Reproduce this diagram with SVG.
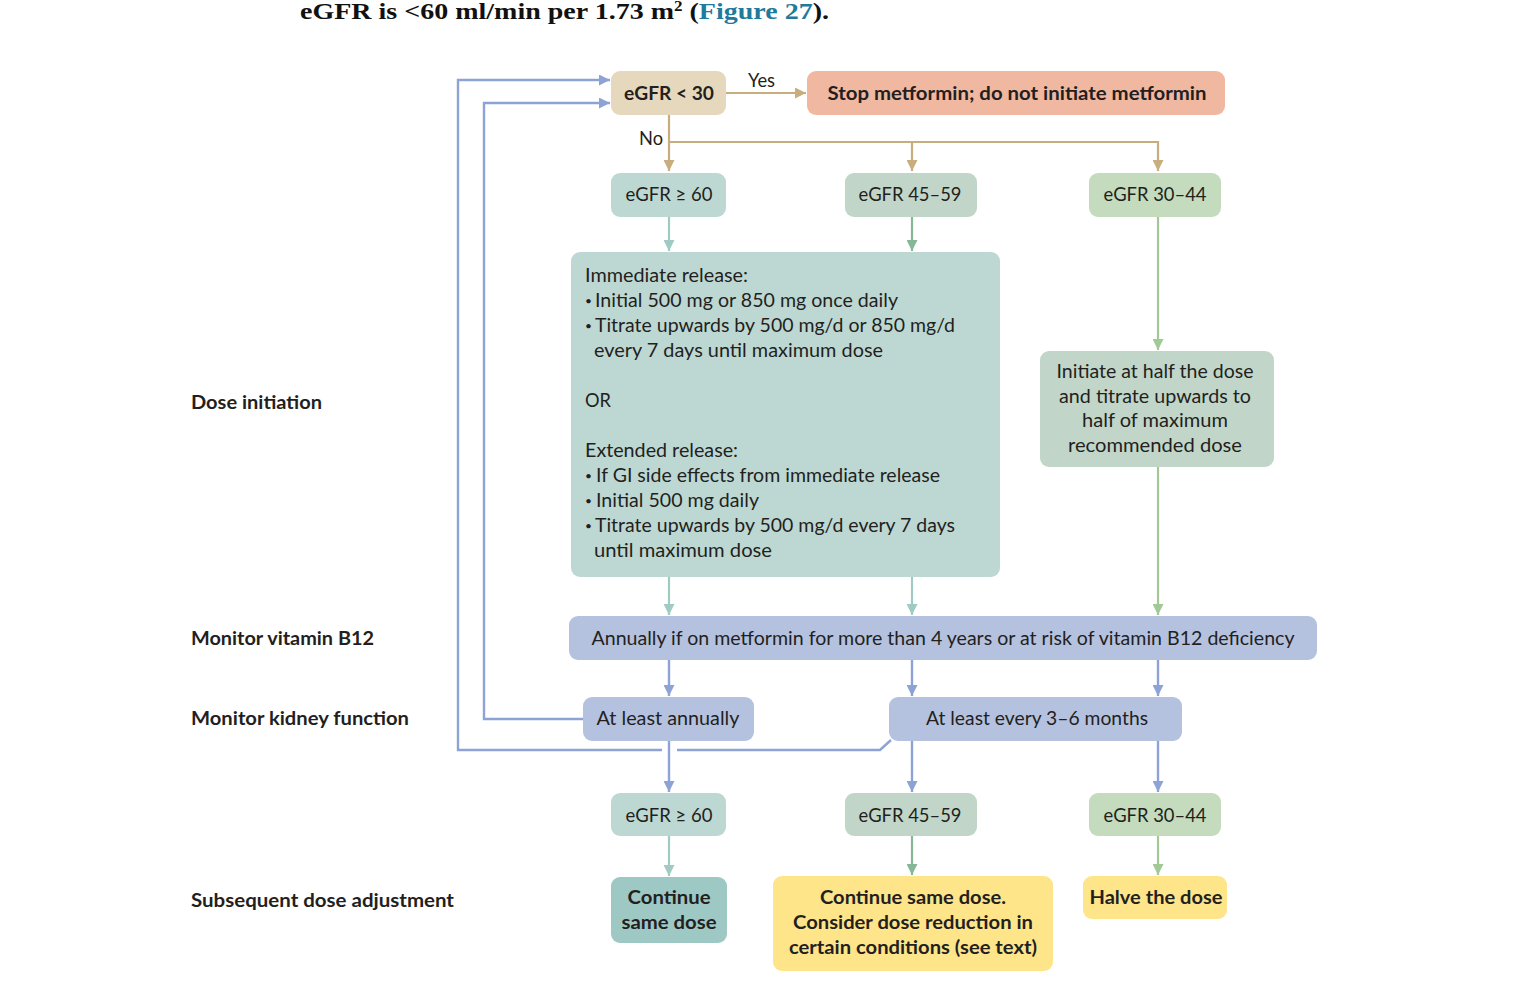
<svg xmlns="http://www.w3.org/2000/svg" width="1516" height="993" viewBox="0 0 1516 993">
<defs>
<style>
.t{font-family:Lato,"Open Sans","Liberation Sans",sans-serif;font-size:19.5px;fill:#231f20}
.b{font-weight:bold}
.c{text-anchor:middle}
.bul{font-family:Lato,"Open Sans","Liberation Sans",sans-serif;font-size:12px;fill:#231f20}
.tan{stroke:#c8ad7f;stroke-width:2.2;fill:none}
.teal{stroke:#9fcbc4;stroke-width:2.2;fill:none}
.grn{stroke:#86b898;stroke-width:2.2;fill:none}
.lgr{stroke:#a1c995;stroke-width:2.2;fill:none}
.blu{stroke:#8ea3d5;stroke-width:2.4;fill:none}
</style>
<marker id="mTan" markerUnits="userSpaceOnUse" viewBox="0 0 10 10" refX="10" refY="5" markerWidth="11" markerHeight="11" orient="auto"><path d="M0,0 L10,5 L0,10 z" fill="#c8ad7f"/></marker>
<marker id="mTeal" markerUnits="userSpaceOnUse" viewBox="0 0 10 10" refX="10" refY="5" markerWidth="11" markerHeight="11" orient="auto"><path d="M0,0 L10,5 L0,10 z" fill="#9fcbc4"/></marker>
<marker id="mGrn" markerUnits="userSpaceOnUse" viewBox="0 0 10 10" refX="10" refY="5" markerWidth="11" markerHeight="11" orient="auto"><path d="M0,0 L10,5 L0,10 z" fill="#86b898"/></marker>
<marker id="mLgr" markerUnits="userSpaceOnUse" viewBox="0 0 10 10" refX="10" refY="5" markerWidth="11" markerHeight="11" orient="auto"><path d="M0,0 L10,5 L0,10 z" fill="#a1c995"/></marker>
<marker id="mBlu" markerUnits="userSpaceOnUse" viewBox="0 0 10 10" refX="10" refY="5" markerWidth="11" markerHeight="11" orient="auto"><path d="M0,0 L10,5 L0,10 z" fill="#8ea3d5"/></marker>
</defs>
<rect width="1516" height="993" fill="#ffffff"/>

<text x="300" y="19" font-family="'Liberation Serif',serif" font-weight="bold" font-size="23" fill="#111" textLength="529" lengthAdjust="spacingAndGlyphs">eGFR is &lt;60 ml/min per 1.73 m<tspan font-size="14" dy="-8">2</tspan><tspan dy="8"> (</tspan><tspan fill="#1f7a9c">Figure 27</tspan>).</text>

<g id="connectors">
<path class="tan" d="M726,93 H806" marker-end="url(#mTan)"/>
<path class="tan" d="M669,115 V171" marker-end="url(#mTan)"/>
<path class="tan" d="M669,142 H1158 V171" marker-end="url(#mTan)"/>
<path class="tan" d="M912,142 V171" marker-end="url(#mTan)"/>
<path class="teal" d="M669,217 V251" marker-end="url(#mTeal)"/>
<path class="grn" d="M912,217 V251" marker-end="url(#mGrn)"/>
<path class="lgr" d="M1158,217 V350" marker-end="url(#mLgr)"/>
<path class="teal" d="M669,577 V615" marker-end="url(#mTeal)"/>
<path class="teal" d="M912,577 V615" marker-end="url(#mTeal)"/>
<path class="lgr" d="M1158,467 V615" marker-end="url(#mLgr)"/>
<path class="blu" d="M669,660 V696" marker-end="url(#mBlu)"/>
<path class="blu" d="M912,660 V696" marker-end="url(#mBlu)"/>
<path class="blu" d="M1158,660 V696" marker-end="url(#mBlu)"/>
<path class="blu" d="M669,741 V792" marker-end="url(#mBlu)"/>
<path class="blu" d="M912,741 V792" marker-end="url(#mBlu)"/>
<path class="blu" d="M1158,741 V792" marker-end="url(#mBlu)"/>
<path class="teal" d="M669,836 V876" marker-end="url(#mTeal)"/>
<path class="grn" d="M912,836 V875" marker-end="url(#mGrn)"/>
<path class="lgr" d="M1158,836 V875" marker-end="url(#mLgr)"/>
<path class="blu" d="M583,719 H484 V103 H610" marker-end="url(#mBlu)"/>
<path class="blu" d="M891,740 L880,750 H677"/>
<path class="blu" d="M662,750 H458 V80 H610" marker-end="url(#mBlu)"/>
</g>

<text class="t" x="748" y="87" textLength="27" lengthAdjust="spacingAndGlyphs">Yes</text>
<text class="t" x="639" y="145" textLength="24" lengthAdjust="spacingAndGlyphs">No</text>

<g id="labels">
<text class="t b" x="191" y="409" textLength="131" lengthAdjust="spacingAndGlyphs">Dose initiation</text>
<text class="t b" x="191" y="645" textLength="183" lengthAdjust="spacingAndGlyphs">Monitor vitamin B12</text>
<text class="t b" x="191" y="725" textLength="218" lengthAdjust="spacingAndGlyphs">Monitor kidney function</text>
<text class="t b" x="191" y="907" textLength="263" lengthAdjust="spacingAndGlyphs">Subsequent dose adjustment</text>
</g>

<g id="egfr30">
<rect x="611" y="71" width="115" height="44" rx="9" fill="#e6d8bc"/>
<text class="t b c" x="669" y="100" textLength="90" lengthAdjust="spacingAndGlyphs">eGFR &lt; 30</text>
</g>
<g id="stop">
<rect x="807" y="71" width="418" height="44" rx="9" fill="#f0b8a1"/>
<text class="t b c" x="1017" y="100" textLength="379" lengthAdjust="spacingAndGlyphs">Stop metformin; do not initiate metformin</text>
</g>

<g id="egfr60a">
<rect x="611" y="173" width="115" height="44" rx="9" fill="#bdd8d3"/>
<text class="t c" x="669" y="201" textLength="87" lengthAdjust="spacingAndGlyphs">eGFR ≥ 60</text>
</g>
<g id="egfr4559a">
<rect x="845" y="173" width="132" height="44" rx="9" fill="#c1d6c9"/>
<text class="t c" x="910" y="201" textLength="103" lengthAdjust="spacingAndGlyphs">eGFR 45–59</text>
</g>
<g id="egfr3044a">
<rect x="1089" y="173" width="132" height="44" rx="9" fill="#c4dbbd"/>
<text class="t c" x="1155" y="201" textLength="103" lengthAdjust="spacingAndGlyphs">eGFR 30–44</text>
</g>

<g id="initbox">
<rect x="571" y="252" width="429" height="325" rx="9" fill="#bdd8d3"/>
<text class="t" x="585" y="282" textLength="163" lengthAdjust="spacingAndGlyphs">Immediate release:</text>
<text class="bul" x="585" y="305">•</text>
<text class="t" x="595" y="307" textLength="303" lengthAdjust="spacingAndGlyphs">Initial 500 mg or 850 mg once daily</text>
<text class="bul" x="585" y="330">•</text>
<text class="t" x="595" y="332" textLength="360" lengthAdjust="spacingAndGlyphs">Titrate upwards by 500 mg/d or 850 mg/d</text>
<text class="t" x="594" y="357" textLength="289" lengthAdjust="spacingAndGlyphs">every 7 days until maximum dose</text>
<text class="t" x="585" y="407" textLength="26" lengthAdjust="spacingAndGlyphs">OR</text>
<text class="t" x="585" y="457" textLength="153" lengthAdjust="spacingAndGlyphs">Extended release:</text>
<text class="bul" x="585" y="480">•</text>
<text class="t" x="596" y="482" textLength="344" lengthAdjust="spacingAndGlyphs">If GI side effects from immediate release</text>
<text class="bul" x="585" y="505">•</text>
<text class="t" x="596" y="507" textLength="163" lengthAdjust="spacingAndGlyphs">Initial 500 mg daily</text>
<text class="bul" x="585" y="530">•</text>
<text class="t" x="595" y="532" textLength="360" lengthAdjust="spacingAndGlyphs">Titrate upwards by 500 mg/d every 7 days</text>
<text class="t" x="594" y="557" textLength="178" lengthAdjust="spacingAndGlyphs">until maximum dose</text>
</g>

<g id="halfinit">
<rect x="1040" y="351" width="234" height="116" rx="9" fill="#c1d6c9"/>
<text class="t c" x="1155" y="378" textLength="197" lengthAdjust="spacingAndGlyphs">Initiate at half the dose</text>
<text class="t c" x="1155" y="403" textLength="192" lengthAdjust="spacingAndGlyphs">and titrate upwards to</text>
<text class="t c" x="1155" y="427" textLength="146" lengthAdjust="spacingAndGlyphs">half of maximum</text>
<text class="t c" x="1155" y="452" textLength="174" lengthAdjust="spacingAndGlyphs">recommended dose</text>
</g>

<g id="b12">
<rect x="569" y="616" width="748" height="44" rx="9" fill="#b4c2e0"/>
<text class="t c" x="943" y="645" textLength="703" lengthAdjust="spacingAndGlyphs">Annually if on metformin for more than 4 years or at risk of vitamin B12 deficiency</text>
</g>

<g id="annually">
<rect x="583" y="697" width="171" height="44" rx="9" fill="#b4c2e0"/>
<text class="t c" x="668" y="725" textLength="143" lengthAdjust="spacingAndGlyphs">At least annually</text>
</g>
<g id="months">
<rect x="889" y="697" width="293" height="44" rx="9" fill="#b4c2e0"/>
<text class="t c" x="1037" y="725" textLength="222" lengthAdjust="spacingAndGlyphs">At least every 3–6 months</text>
</g>

<g id="egfr60b">
<rect x="611" y="793" width="115" height="43" rx="9" fill="#bdd8d3"/>
<text class="t c" x="669" y="822" textLength="87" lengthAdjust="spacingAndGlyphs">eGFR ≥ 60</text>
</g>
<g id="egfr4559b">
<rect x="845" y="793" width="132" height="43" rx="9" fill="#c1d6c9"/>
<text class="t c" x="910" y="822" textLength="103" lengthAdjust="spacingAndGlyphs">eGFR 45–59</text>
</g>
<g id="egfr3044b">
<rect x="1089" y="793" width="132" height="43" rx="9" fill="#c4dbbd"/>
<text class="t c" x="1155" y="822" textLength="103" lengthAdjust="spacingAndGlyphs">eGFR 30–44</text>
</g>

<g id="continue">
<rect x="611" y="877" width="116" height="66" rx="9" fill="#9dc8c3"/>
<text class="t b c" x="669" y="904" textLength="83" lengthAdjust="spacingAndGlyphs">Continue</text>
<text class="t b c" x="669" y="929" textLength="95" lengthAdjust="spacingAndGlyphs">same dose</text>
</g>
<g id="consider">
<rect x="773" y="876" width="280" height="95" rx="9" fill="#fee58a"/>
<text class="t b c" x="913" y="904" textLength="186" lengthAdjust="spacingAndGlyphs">Continue same dose.</text>
<text class="t b c" x="913" y="929" textLength="240" lengthAdjust="spacingAndGlyphs">Consider dose reduction in</text>
<text class="t b c" x="913" y="954" textLength="248" lengthAdjust="spacingAndGlyphs">certain conditions (see text)</text>
</g>
<g id="halve">
<rect x="1083" y="876" width="144" height="43" rx="9" fill="#fee58a"/>
<text class="t b c" x="1156" y="904" textLength="133" lengthAdjust="spacingAndGlyphs">Halve the dose</text>
</g>
</svg>
